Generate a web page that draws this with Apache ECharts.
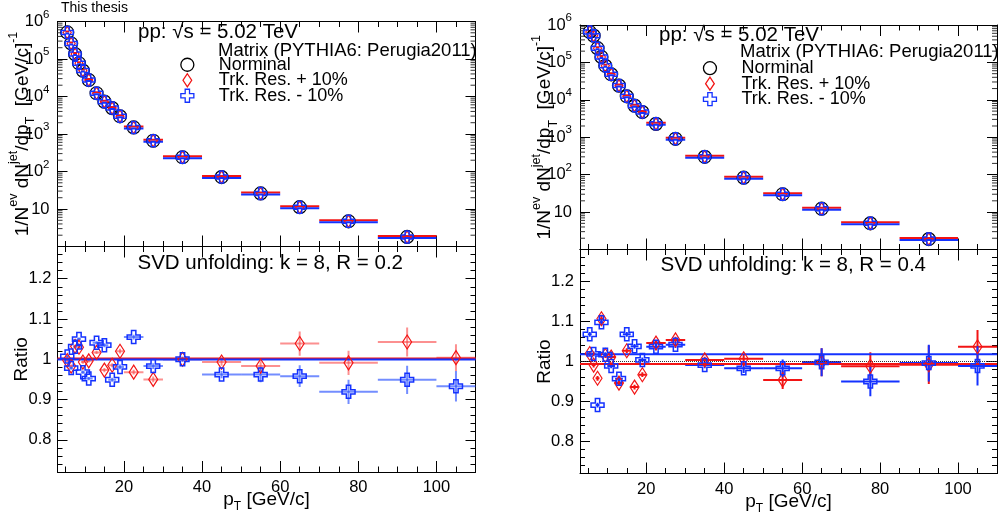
<!DOCTYPE html>
<html><head><meta charset="utf-8">
<script src="https://cdn.jsdelivr.net/npm/echarts@6/dist/echarts.min.js"></script>
<style>html,body{margin:0;padding:0;background:#fff}#c{width:1005px;height:519px}</style>
</head><body><div id="c"></div>
<script>
// ---------- data ----------
const binEdges = [5,6,7,8,9,10,12,14,16,18,20,25,30,40,50,60,70,85,100,110];
const xMajorTicks = [20,40,60,80,100];
const xMinorTicks = [5,10,15,20,25,30,35,40,45,50,55,60,65,70,75,80,85,90,95,100,105,110];
const ratioMajorTicks = [0.8,0.9,1,1.1,1.2];
const ratioMinorTicks = [0.72,0.74,0.76,0.78,0.8,0.82,0.84,0.86,0.88,0.9,0.92,0.94,0.96,0.98,1,1.02,1.04,1.06,1.08,1.1,1.12,1.14,1.16,1.18,1.2,1.22,1.24,1.26,1.28];
const logMinorTicks = [2,3,4,5,6,7,8,9,20,30,40,50,60,70,80,90,200,300,400,500,600,700,800,900,
  2e3,3e3,4e3,5e3,6e3,7e3,8e3,9e3,2e4,3e4,4e4,5e4,6e4,7e4,8e4,9e4,2e5,3e5,4e5,5e5,6e5,7e5,8e5,9e5];
const legendNames = ['Norminal','Trk. Res. + 10%','Trk. Res. - 10%'];

// R = 0.2 (left)
const nominalR02 = [5.1e5,2.6e5,1.35e5,7.7e4,4.9e4,2.75e4,1.22e4,7.3e3,4.9e3,2.96e3,1.5e3,660,240,71,26,11.2,4.7,1.8,null];
const plusR02  = [0.997,0.983,1.032,1.030,0.993,0.996,1.017,0.973,0.985,1.020,0.968,0.950,1.000,0.993,0.983,1.039,0.991,1.043,1.004];
const minusR02 = [1.007,0.978,1.031,1.050,0.968,0.952,1.041,1.035,0.949,0.981,1.055,0.983,1.000,0.962,0.962,0.958,0.919,0.949,0.933];
const errPlusR02  = [0.004,0.004,0.004,0.004,0.004,0.004,0.004,0.005,0.005,0.006,0.006,0.007,0.006,0.009,0.012,0.030,0.030,0.036,0.033];
const errMinusR02 = [0.004,0.004,0.004,0.004,0.004,0.004,0.004,0.005,0.005,0.006,0.006,0.007,0.006,0.009,0.019,0.027,0.030,0.035,0.038];
const fitPlusR02 = 1.002, fitMinusR02 = 0.9995;

// R = 0.4 (right)
const nominalR04 = [6.5e5,5.2e5,2.4e5,1.4e5,8.1e4,4.8e4,2.4e4,1.24e4,7.0e3,4.7e3,2.28e3,910,300,83,30,12.3,5.0,1.9,null];
const plusR04  = [1.020,0.991,0.958,1.107,1.015,1.011,0.946,1.027,0.936,0.967,1.046,1.054,1.004,1.007,0.954,0.998,0.988,0.992,1.037];
const minusR04 = [1.068,1.019,0.891,1.098,1.017,0.989,0.957,1.068,1.038,1.004,1.037,1.042,0.991,0.983,0.983,0.998,0.950,0.996,0.989];
const errPlusR04  = [0.006,0.006,0.006,0.010,0.006,0.006,0.006,0.006,0.006,0.006,0.008,0.008,0.008,0.012,0.023,0.035,0.035,0.048,0.042];
const errMinusR04 = [0.006,0.006,0.006,0.008,0.006,0.006,0.006,0.006,0.006,0.006,0.008,0.008,0.008,0.012,0.022,0.035,0.037,0.046,0.049];
const fitPlusR04 = 0.9935, fitMinusR04 = 1.018;

// ---------- setup ----------
const FONT = '"Liberation Sans", Arial, Helvetica, sans-serif';
const X_MIN = 3, X_MAX = 110;
const binLow = binEdges.slice(0, -1);
const binHigh = binEdges.slice(1);
const binCenters = binLow.map((e, i) => (e + binHigh[i]) / 2);
const RED = '#f21414', BLUE = '#1432ff';
const crossPath = 'path://M-1,-3L1,-3L1,-1L3,-1L3,1L1,1L1,3L-1,3L-1,1L-3,1L-3,-1L-1,-1Z';
const diamondPath = 'path://M0,-6L4,0L0,6L-4,0Z';

const grids = [
  {left: 57.5, top: 21.5, width: 418, height: 225},
  {left: 57.5, top: 246.5, width: 418, height: 225.5},
  {left: 580, top: 25, width: 417, height: 224.5},
  {left: 580, top: 249.5, width: 417, height: 224}
].map(g => Object.assign({outerBoundsMode: 'none', containLabel: false}, g));

const xb = g => g * 4;
const yBaseArr = [0, 2, 6, 8];
const yb = g => yBaseArr[g];

const axisLineStyle = {show: true, onZero: false, lineStyle: {color: '#000', width: 1}};
const xNameRich = {
  n: {fontSize: 19, lineHeight: 26, verticalAlign: 'middle', fontFamily: FONT, color: '#000'},
  sub: {fontSize: 12, lineHeight: 12, verticalAlign: 'bottom', fontFamily: FONT, color: '#000'}
};

function makeXAxes(g, isRatio) {
  const base = {type: 'value', gridIndex: g, min: X_MIN, max: X_MAX, splitLine: {show: false}};
  const lab = isRatio ? {show: true, customValues: xMajorTicks, fontSize: 16.5, fontFamily: FONT, color: '#000', margin: 7} : {show: false};
  return [
    Object.assign({}, base, {position: 'bottom', axisLine: axisLineStyle,
      axisTick: {show: true, inside: true, length: 11, customValues: xMajorTicks, lineStyle: {color: '#000'}},
      axisLabel: lab,
      name: isRatio ? '{n|p}{sub|T}{n| [GeV/c]}' : '', nameLocation: 'middle', nameGap: 15, nameMoveOverlap: false,
      nameTextStyle: {rich: xNameRich}}),
    Object.assign({}, base, {position: 'bottom', axisLine: {show: false},
      axisTick: {show: true, inside: true, length: 5.5, customValues: xMinorTicks, lineStyle: {color: '#000'}},
      axisLabel: {show: false}}),
    Object.assign({}, base, {position: 'top', axisLine: axisLineStyle,
      axisTick: {show: true, inside: true, length: 11, customValues: xMajorTicks, lineStyle: {color: '#000'}},
      axisLabel: {show: false}}),
    Object.assign({}, base, {position: 'top', axisLine: {show: false},
      axisTick: {show: true, inside: true, length: 5.5, customValues: xMinorTicks, lineStyle: {color: '#000'}},
      axisLabel: {show: false}})
  ];
}

const yTitleRich = {
  n: {fontSize: 19, lineHeight: 30, verticalAlign: 'middle', fontFamily: FONT, color: '#000'},
  sup: {fontSize: 12.5, lineHeight: 12, verticalAlign: 'top', fontFamily: FONT, color: '#000'},
  sub: {fontSize: 12.5, lineHeight: 12, verticalAlign: 'bottom', fontFamily: FONT, color: '#000'}
};

function makeLogYAxes(g) {
  const base = {type: 'log', logBase: 10, gridIndex: g, min: 1, max: 1e6, splitLine: {show: false}, minorTick: {show: false}};
  return [
    Object.assign({}, base, {position: 'left', axisLine: axisLineStyle,
      axisTick: {show: true, inside: true, length: 10, lineStyle: {color: '#000'}},
      axisLabel: {show: true, margin: 8,
        formatter: v => { const e = Math.round(Math.log10(v)); if (e === 0) return ''; if (e === 1) return '{b|10}'; return '{b|10}{e|' + e + '}'; },
        rich: {b: {fontSize: 16.5, lineHeight: 26, verticalAlign: 'middle', fontFamily: FONT, color: '#000'},
               e: {fontSize: 11.5, lineHeight: 10, verticalAlign: 'top', fontFamily: FONT, color: '#000'}}},
      name: '{n|1/N}{sup|ev}{n| dN}{sup|jet}{n|/dp}{sub|T}{n|  [GeV/c]}{sup|-1}',
      nameLocation: 'middle', nameRotate: 90, nameGap: 20, nameMoveOverlap: false,
      nameTextStyle: {rich: yTitleRich}}),
    Object.assign({}, base, {position: 'right', axisLine: axisLineStyle,
      axisTick: {show: true, inside: true, length: 10, lineStyle: {color: '#000'}},
      axisLabel: {show: false}})
  ];
}

function makeRatioYAxes(g) {
  const base = {type: 'value', gridIndex: g, min: 0.72, max: 1.28, splitLine: {show: false}};
  return [
    Object.assign({}, base, {position: 'left', axisLine: axisLineStyle,
      axisTick: {show: true, inside: true, length: 10, customValues: ratioMajorTicks, lineStyle: {color: '#000'}},
      axisLabel: {show: true, customValues: ratioMajorTicks, fontSize: 16.5, fontFamily: FONT, color: '#000', margin: 6},
      name: 'Ratio', nameLocation: 'middle', nameRotate: 90, nameGap: 26, nameMoveOverlap: false,
      nameTextStyle: {fontSize: 19, fontFamily: FONT, color: '#000'}}),
    Object.assign({}, base, {position: 'left', axisLine: {show: false},
      axisTick: {show: true, inside: true, length: 5, customValues: ratioMinorTicks, lineStyle: {color: '#000'}},
      axisLabel: {show: false}}),
    Object.assign({}, base, {position: 'right', axisLine: axisLineStyle,
      axisTick: {show: true, inside: true, length: 10, customValues: ratioMajorTicks, lineStyle: {color: '#000'}},
      axisLabel: {show: false}}),
    Object.assign({}, base, {position: 'right', axisLine: {show: false},
      axisTick: {show: true, inside: true, length: 5, customValues: ratioMinorTicks, lineStyle: {color: '#000'}},
      axisLabel: {show: false}})
  ];
}

function logMinorSeries(g) {
  return {type: 'custom', xAxisIndex: xb(g), yAxisIndex: yb(g), silent: true, clip: false, z: 1,
    encode: {x: 0, y: 1},
    data: logMinorTicks.map(v => [X_MIN, v]),
    renderItem: (params, api) => {
      const v = api.value(1);
      const a = api.coord([X_MIN, v]), b = api.coord([X_MAX, v]);
      return {type: 'group', children: [
        {type: 'line', shape: {x1: a[0], y1: a[1], x2: a[0] + 5, y2: a[1]}, style: {stroke: '#333', lineWidth: 1}},
        {type: 'line', shape: {x1: b[0] - 5, y1: b[1], x2: b[0], y2: b[1]}, style: {stroke: '#333', lineWidth: 1}}
      ]};
    }};
}

function barSeries(g, vals, errs, color, width, dy) {
  const data = [];
  vals.forEach((v, i) => { if (v != null) data.push([binLow[i], binHigh[i], v, errs ? errs[i] : 0]); });
  return {type: 'custom', xAxisIndex: xb(g), yAxisIndex: yb(g), silent: true, clip: true, z: 2,
    encode: {x: [0, 1], y: 2},
    data,
    renderItem: (params, api) => {
      const lo = api.value(0), hi = api.value(1), y = api.value(2), e = api.value(3);
      const p1 = api.coord([lo, y]), p2 = api.coord([hi, y]);
      const ch = [{type: 'line', shape: {x1: p1[0], y1: p1[1] + dy, x2: p2[0], y2: p2[1] + dy}, style: {stroke: color, lineWidth: width}}];
      if (e > 0) {
        const c = (lo + hi) / 2;
        const a = api.coord([c, y - e]), b = api.coord([c, y + e]);
        ch.push({type: 'line', shape: {x1: a[0], y1: a[1], x2: b[0], y2: b[1]}, style: {stroke: color, lineWidth: width}});
      }
      return {type: 'group', children: ch};
    }};
}

function markerSeries(g, name, vals, kind, size) {
  const data = [];
  vals.forEach((v, i) => { if (v != null) data.push([binCenters[i], v]); });
  const st = {circle: ['circle', '#000', 1.2], diamond: ['diamond', RED, 1.2], cross: [crossPath, BLUE, 1.5]}[kind];
  return {type: 'scatter', name, xAxisIndex: xb(g), yAxisIndex: yb(g), data, clip: true, z: 5,
    symbol: st[0], symbolSize: size, symbolKeepAspect: false,
    itemStyle: {color: 'rgba(0,0,0,0)', borderColor: st[1], borderWidth: st[2], opacity: 1},
    emphasis: {disabled: true}};
}

function hLine(g, value, color, width, type) {
  return {type: 'line', xAxisIndex: xb(g), yAxisIndex: yb(g), data: [[X_MIN, value], [X_MAX, value]],
    symbol: 'none', silent: true, z: 3, lineStyle: {color, width, type}, emphasis: {disabled: true}};
}

function topPanel(g, nominal) {
  return [
    logMinorSeries(g),
    barSeries(g, nominal, null, RED, 2, -1),
    barSeries(g, nominal, null, BLUE, 2, 1),
    markerSeries(g, legendNames[0], nominal, 'circle', 13),
    markerSeries(g, legendNames[1], nominal, 'diamond', [8, 12]),
    markerSeries(g, legendNames[2], nominal, 'cross', 12)
  ];
}

function ratioPanel(g, plus, minus, ep, em, fp, fm, light) {
  const rc = light ? 'rgba(250,70,70,0.6)' : RED;
  const bc = light ? 'rgba(40,80,255,0.65)' : BLUE;
  return [
    hLine(g, 1, '#333', 1, 'dotted'),
    hLine(g, fp, RED, 2, 'solid'),
    hLine(g, fm, BLUE, 2, 'solid'),
    barSeries(g, plus, ep, rc, 2, 0),
    barSeries(g, minus, em, bc, 2, 0),
    markerSeries(g, legendNames[1], plus, 'diamond', [9, 14]),
    markerSeries(g, legendNames[2], minus, 'cross', 13)
  ];
}

const xAxes = [].concat(makeXAxes(0, false), makeXAxes(1, true), makeXAxes(2, false), makeXAxes(3, true));
const yAxes = [].concat(makeLogYAxes(0), makeRatioYAxes(1), makeLogYAxes(2), makeRatioYAxes(3));

const series = [].concat(
  topPanel(0, nominalR02),
  ratioPanel(1, plusR02, minusR02, errPlusR02, errMinusR02, fitPlusR02, fitMinusR02, true),
  topPanel(2, nominalR04),
  ratioPanel(3, plusR04, minusR04, errPlusR04, errMinusR04, fitPlusR04, fitMinusR04, false)
);

function txt(x, y, text, size) {
  return {type: 'text', x, y, silent: true, z: 100,
    style: {text, fontSize: size, fontFamily: FONT, fill: '#000', align: 'left', verticalAlign: 'middle'}};
}

function legendCfg(left, top) {
  return {orient: 'vertical', left, top, padding: 0, itemWidth: 13, itemHeight: 13, itemGap: -6.5,
    selectedMode: false, symbolKeepAspect: true,
    data: [
      {name: legendNames[0], icon: 'circle'},
      {name: legendNames[1], icon: diamondPath},
      {name: legendNames[2], icon: crossPath}
    ],
    itemStyle: {borderWidth: 1.3},
    textStyle: {fontFamily: FONT, fontSize: 18, color: '#000', lineHeight: 14, padding: [0, 0, 8, 20]}};
}

const option = {
  backgroundColor: '#fff',
  animation: false,
  grid: grids,
  xAxis: xAxes,
  yAxis: yAxes,
  legend: [legendCfg(180.2, 53.75), legendCfg(702.8, 57.2)],
  series,
  graphic: [
    txt(61, 8, 'This thesis', 14),
    txt(138, 32, 'pp: √s = 5.02 TeV', 20.5),
    txt(659, 35, 'pp: √s = 5.02 TeV', 20.5),
    txt(218, 51, 'Matrix (PYTHIA6: Perugia2011)', 18.5),
    txt(740, 52, 'Matrix (PYTHIA6: Perugia2011)', 18.5),
    txt(137.5, 263, 'SVD unfolding: k = 8, R = 0.2', 20.5),
    txt(660.5, 265.5, 'SVD unfolding: k = 8, R = 0.4', 20.5)
  ]
};

const chart = echarts.init(document.getElementById('c'), null, {renderer: 'canvas'});
chart.setOption(option);
</script>
</body></html>
